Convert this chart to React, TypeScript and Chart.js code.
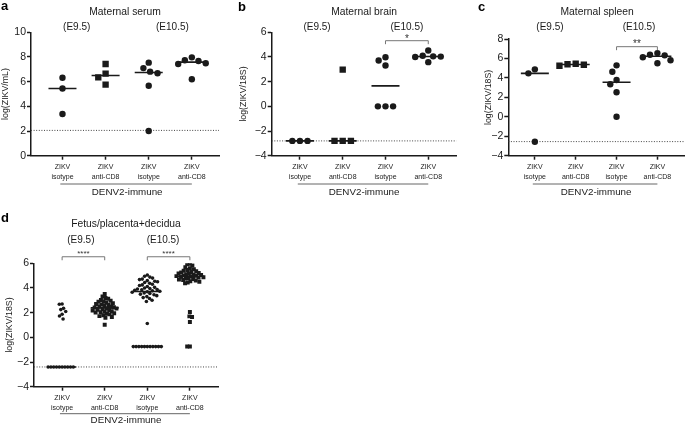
import React, { useEffect, useRef } from 'react';
import { Chart, registerables } from 'chart.js';

Chart.register(...registerables);

const FONT = "'Liberation Sans', Arial, Helvetica, sans-serif";
const INK = '#1a1a1a';

// ---------- shared labels ----------
const categoryLabels = [['ZIKV', 'isotype'], ['ZIKV', 'anti-CD8'], ['ZIKV', 'isotype'], ['ZIKV', 'anti-CD8']];
const stageLabels = ['(E9.5)', '(E10.5)'];
const cohortLabel = 'DENV2-immune';

// ---------- panel a: maternal serum, log(ZIKV/mL) ----------
const serumE95Isotype = [6.32, 5.45, 3.38];
const serumE95AntiCD8 = [7.43, 6.65, 6.35, 5.76];
const serumE105Isotype = [7.54, 7.1, 6.81, 6.68, 5.67, 2.0];
const serumE105AntiCD8 = [7.97, 7.73, 7.67, 7.49, 7.43, 6.19];
const serumLimit = 2.05;

// ---------- panel b: maternal brain, log(ZIKV/18S) ----------
const brainE95Isotype = [-2.8, -2.8, -2.8];
const brainE95AntiCD8 = [2.97, -2.8, -2.8, -2.8];
const brainE105Isotype = [3.98, 3.71, 3.31, 0, 0, 0];
const brainE105AntiCD8 = [4.52, 4.1, 4.05, 4.03, 4.0, 3.58];
const brainLimit = -2.8;

// ---------- panel c: maternal spleen, log(ZIKV/18S) ----------
const spleenE95Isotype = [4.88, 4.47, -2.56];
const spleenE95AntiCD8 = [5.45, 5.4, 5.35, 5.25];
const spleenE105Isotype = [5.29, 4.64, 3.78, 3.34, 2.52, 0.01];
const spleenE105AntiCD8 = [6.55, 6.38, 6.32, 6.12, 5.82, 5.5];
const spleenLimit = -2.55;

// ---------- panel d: fetus/placenta+decidua, log(ZIKV/18S) ----------
const fetusE95Isotype = [
  2.7, 2.68, 2.35, 2.25, 2.1, 1.87, 1.73, 1.49,
  -2.4, -2.4, -2.4, -2.4, -2.4, -2.4, -2.4, -2.4, -2.4, -2.4,
];
const fetusE95AntiCD8 = [
  3.52, 3.31, 3.18, 3.12, 3.02, 2.97, 2.91, 2.88, 2.8, 2.77, 2.71, 2.66, 2.62, 2.55, 2.52, 2.48, 2.44, 2.41,
  2.36, 2.33, 2.3, 2.24, 2.21, 2.17, 2.12, 2.09, 2.04, 2.01, 1.96, 1.9, 1.86, 1.79, 1.72, 1.65, 1.58, 1.02,
];
const fetusE105Isotype = [
  5.05, 4.95, 4.88, 4.8, 4.72, 4.68, 4.6, 4.55, 4.5, 4.45, 4.38, 4.3, 4.25, 4.2, 4.12, 4.05, 4.0, 3.96, 3.92,
  3.88, 3.85, 3.82, 3.78, 3.74, 3.7, 3.66, 3.6, 3.55, 3.5, 3.45, 3.38, 3.3, 3.22, 3.15, 3.0, 2.9, 1.12,
  -0.75, -0.75, -0.75, -0.75, -0.75, -0.75, -0.75, -0.75, -0.75, -0.75, -0.75,
];
const fetusE105AntiCD8 = [
  5.96, 5.94, 5.82, 5.68, 5.6, 5.52, 5.45, 5.4, 5.35, 5.3, 5.26, 5.22, 5.18, 5.15, 5.12, 5.08, 5.05, 5.02,
  4.99, 4.96, 4.93, 4.9, 4.87, 4.84, 4.8, 4.76, 4.72, 4.68, 4.64, 4.6, 4.55, 4.5, 4.45, 4.38,
  2.05, 1.7, 1.65, 1.25, -0.75, -0.75,
];
const fetusLimit = -2.4;

type Shape = 'circle' | 'rect';
interface Sig { from: number; to: number; level: number; text: string }
interface Gap { gx: number; gy: number }
interface PanelSpec {
  letter: string;
  title: string;
  yTitle: string;
  groups: number[][];
  shapes: Shape[];
  limit: number;
  yMin: number;
  yMax: number;
  yStep: number;
  sig: Sig[];
  box: { L: number; T: number; R: number; B: number; yw: number; xMin: number; xMax: number };
  text: {
    titleY: number; stageY: number; stageX: number[]; letterX: number; letterY: number;
    starFont: number; starGap: number; cohortLineDy: number; cohortTextDy: number;
  };
  marks: { circleR: number; rectR: number; gapCircle: Gap; gapRect: Gap; medianHalf: number };
}

const bigMarks = {
  circleR: 3.2, rectR: 4.5,
  gapCircle: { gx: 7.6, gy: 7.6 }, gapRect: { gx: 8.2, gy: 8.2 },
  medianHalf: 14,
};

const panels: PanelSpec[] = [
  {
    letter: 'a', title: 'Maternal serum', yTitle: 'log(ZIKV/mL)',
    groups: [serumE95Isotype, serumE95AntiCD8, serumE105Isotype, serumE105AntiCD8],
    shapes: ['circle', 'rect', 'circle', 'circle'], limit: serumLimit,
    yMin: 0, yMax: 10, yStep: 2, sig: [],
    box: { L: 31, T: 32.3, R: 219, B: 155.7, yw: 30.3, xMin: 0.27, xMax: 4.63 },
    text: { titleY: 12.5, stageY: 27, stageX: [1.33, 3.55], letterX: 1, letterY: 10, starFont: 10, starGap: 4.7, cohortLineDy: 28.3, cohortTextDy: 36.5 },
    marks: bigMarks,
  },
  {
    letter: 'b', title: 'Maternal brain', yTitle: 'log(ZIKV/18S)',
    groups: [brainE95Isotype, brainE95AntiCD8, brainE105Isotype, brainE105AntiCD8],
    shapes: ['circle', 'rect', 'circle', 'circle'], limit: brainLimit,
    yMin: -4, yMax: 6, yStep: 2, sig: [{ from: 3, to: 4, level: 5.32, text: '*' }],
    box: { L: 271.7, T: 32.3, R: 456.5, B: 155.7, yw: 33.7, xMin: 0.34, xMax: 4.66 },
    text: { titleY: 12.5, stageY: 27, stageX: [1.4, 3.5], letterX: 238, letterY: 10.5, starFont: 10, starGap: 4.7, cohortLineDy: 28.3, cohortTextDy: 36.5 },
    marks: bigMarks,
  },
  {
    letter: 'c', title: 'Maternal spleen', yTitle: 'log(ZIKV/18S)',
    groups: [spleenE95Isotype, spleenE95AntiCD8, spleenE105Isotype, spleenE105AntiCD8],
    shapes: ['circle', 'rect', 'circle', 'circle'], limit: spleenLimit,
    yMin: -4, yMax: 8, yStep: 2, sig: [{ from: 3, to: 4, level: 7.21, text: '**' }],
    box: { L: 508.3, T: 39, R: 686, B: 155.7, yw: 25.1, xMin: 0.35, xMax: 4.7 },
    text: { titleY: 12.5, stageY: 27, stageX: [1.37, 3.55], letterX: 478, letterY: 10.5, starFont: 10, starGap: 5, cohortLineDy: 28.3, cohortTextDy: 36.5 },
    marks: bigMarks,
  },
  {
    letter: 'd', title: 'Fetus/placenta+decidua', yTitle: 'log(ZIKV/18S)',
    groups: [fetusE95Isotype, fetusE95AntiCD8, fetusE105Isotype, fetusE105AntiCD8],
    shapes: ['circle', 'rect', 'circle', 'rect'], limit: fetusLimit,
    yMin: -4, yMax: 6, yStep: 2,
    sig: [{ from: 1, to: 2, level: 6.53, text: '****' }, { from: 3, to: 4, level: 6.53, text: '****' }],
    box: { L: 34, T: 263.3, R: 218, B: 386.7, yw: 29.8, xMin: 0.34, xMax: 4.66 },
    text: { titleY: 224, stageY: 240, stageX: [1.44, 3.37], letterX: 1, letterY: 222, starFont: 8, starGap: 5, cohortLineDy: 27, cohortTextDy: 33.8 },
    marks: {
      circleR: 1.8, rectR: 2.8,
      gapCircle: { gx: 2.8, gy: 5 }, gapRect: { gx: 2.7, gy: 4.4 },
      medianHalf: 14,
    },
  },
];

function median(vals: number[]): number {
  const s = [...vals].sort((a, b) => a - b);
  const n = s.length;
  return n % 2 ? s[(n - 1) / 2] : (s[n / 2 - 1] + s[n / 2]) / 2;
}

// Beeswarm: horizontal pixel offsets so that markers (elliptical footprint gx x gy) do not collide
function swarm(values: number[], yPx: number, gap: Gap): number[] {
  const order = values.map((_, i) => i).sort((a, b) => values[b] - values[a]);
  const placed: { x: number; y: number }[] = [];
  const out = new Array(values.length).fill(0);
  for (const i of order) {
    const y = values[i] * yPx;
    const forbidden: [number, number][] = [];
    for (const p of placed) {
      const dy = Math.abs(p.y - y);
      if (dy < gap.gy) {
        const dx = gap.gx * Math.sqrt(1 - (dy / gap.gy) ** 2);
        forbidden.push([p.x - dx, p.x + dx]);
      }
    }
    const cands = [0];
    forbidden.forEach(([a, b]) => cands.push(a, b));
    cands.sort((a, b) => Math.abs(a) - Math.abs(b) || a - b);
    let x = 0;
    for (const c of cands) {
      if (forbidden.every(([a, b]) => c <= a + 1e-6 || c >= b - 1e-6)) { x = c; break; }
    }
    placed.push({ x, y });
    out[i] = x;
  }
  return out;
}

function makeAnnotations(p: PanelSpec) {
  return {
    id: 'annotations-' + p.letter,
    afterDraw(chart: any) {
      const { ctx, chartArea: ca } = chart;
      const xs = chart.scales.x;
      const ys = chart.scales.y;
      ctx.save();
      ctx.fillStyle = INK;
      ctx.textAlign = 'center';
      ctx.textBaseline = 'middle';
      ctx.font = `10.3px ${FONT}`;
      ctx.fillText(p.title, (ca.left + ca.right) / 2, p.text.titleY);
      ctx.font = `10px ${FONT}`;
      stageLabels.forEach((s, i) => ctx.fillText(s, xs.getPixelForValue(p.text.stageX[i]), p.text.stageY));

      // cohort line + label
      ctx.strokeStyle = '#666';
      ctx.lineWidth = 1;
      const ly = ca.bottom + p.text.cohortLineDy;
      ctx.beginPath();
      ctx.moveTo(xs.getPixelForValue(0.95), ly);
      ctx.lineTo(xs.getPixelForValue(4.0), ly);
      ctx.stroke();
      ctx.fillStyle = INK;
      ctx.font = `9.8px ${FONT}`;
      ctx.fillText(cohortLabel, xs.getPixelForValue(2.5), ca.bottom + p.text.cohortTextDy);

      // significance brackets
      for (const s of p.sig) {
        const x1 = xs.getPixelForValue(s.from);
        const x2 = xs.getPixelForValue(s.to);
        const y = ys.getPixelForValue(s.level);
        ctx.strokeStyle = '#777';
        ctx.lineWidth = 1;
        ctx.beginPath();
        ctx.moveTo(x1, y + 3.5);
        ctx.lineTo(x1, y);
        ctx.lineTo(x2, y);
        ctx.lineTo(x2, y + 3.5);
        ctx.stroke();
        ctx.fillStyle = '#333';
        ctx.font = `${p.text.starFont}px ${FONT}`;
        ctx.textBaseline = 'alphabetic';
        ctx.fillText(s.text, (x1 + x2) / 2, y - p.text.starGap + 0.57 * p.text.starFont);
        ctx.textBaseline = 'middle';
      }

      // panel letter
      ctx.fillStyle = '#000';
      ctx.font = `bold 13px ${FONT}`;
      ctx.textAlign = 'left';
      ctx.textBaseline = 'alphabetic';
      ctx.fillText(p.letter, p.text.letterX, p.text.letterY);
      ctx.restore();
    },
  };
}

function buildChart(canvas: HTMLCanvasElement, p: PanelSpec) {
  const W = canvas.width;
  const H = canvas.height;
  const XH = 30;
  const { L, T, R, B, yw, xMin, xMax } = p.box;
  const xPx = (R - L) / (xMax - xMin);
  const yPx = (B - T) / (p.yMax - p.yMin);
  const datasets: any[] = [];

  p.groups.forEach((vals, g) => {
    const shape = p.shapes[g];
    const offs = swarm(vals, yPx, shape === 'rect' ? p.marks.gapRect : p.marks.gapCircle);
    datasets.push({
      data: vals.map((v, k) => ({ x: g + 1 + offs[k] / xPx, y: v })),
      pointStyle: shape,
      pointRadius: shape === 'rect' ? p.marks.rectR : p.marks.circleR,
      pointBackgroundColor: INK,
      pointBorderColor: INK,
      pointBorderWidth: 0,
      showLine: false,
      order: 0,
    });
  });

  p.groups.forEach((vals, g) => {
    const m = median(vals);
    const hw = p.marks.medianHalf / xPx;
    datasets.push({
      data: [{ x: g + 1 - hw, y: m }, { x: g + 1 + hw, y: m }],
      showLine: true,
      borderColor: INK,
      borderWidth: 1.6,
      pointRadius: 0,
      order: 1,
    });
  });

  datasets.push({
    data: [{ x: xMin, y: p.limit }, { x: xMax, y: p.limit }],
    showLine: true,
    borderColor: '#444',
    borderWidth: 1,
    borderDash: [1, 1.6],
    pointRadius: 0,
    order: 2,
  });

  return new Chart(canvas, {
    type: 'scatter',
    data: { datasets },
    options: {
      responsive: false,
      animation: false,
      events: [],
      layout: { padding: { left: L - yw, top: T, right: W - R, bottom: H - B - XH } },
      plugins: { legend: { display: false }, tooltip: { enabled: false } },
      scales: {
        x: {
          type: 'linear',
          min: xMin,
          max: xMax,
          afterBuildTicks: (axis: any) => { axis.ticks = [1, 2, 3, 4].map((v) => ({ value: v })); },
          afterFit: (axis: any) => { axis.height = XH; },
          ticks: {
            callback: (v: any) => categoryLabels[Math.round(v) - 1],
            font: { family: FONT, size: 7, lineHeight: 1.43 },
            color: INK,
            padding: 2,
            maxRotation: 0,
            autoSkip: false,
          },
          grid: { drawOnChartArea: false, tickLength: 4, tickColor: INK, tickWidth: 1.5 },
          border: { color: INK, width: 1.5 },
        },
        y: {
          type: 'linear',
          min: p.yMin,
          max: p.yMax,
          afterFit: (axis: any) => { axis.width = yw; },
          ticks: {
            stepSize: p.yStep,
            callback: (v: any) => String(v).replace('-', '\u2212'),
            font: { family: FONT, size: 10.5 },
            color: INK,
            padding: 1,
          },
          title: { display: true, text: p.yTitle, font: { family: FONT, size: 8.8 }, color: INK, padding: 0 },
          grid: { drawOnChartArea: false, tickLength: 4, tickColor: INK, tickWidth: 1.5 },
          border: { color: INK, width: 1.5 },
        },
      },
    } as any,
    plugins: [makeAnnotations(p)],
  });
}

function PanelChart({ spec }: { spec: PanelSpec }) {
  const ref = useRef<HTMLCanvasElement>(null);
  useEffect(() => {
    const chart = buildChart(ref.current as HTMLCanvasElement, spec);
    return () => chart.destroy();
  }, [spec]);
  return <canvas ref={ref} width={700} height={425} style={{ position: 'absolute', left: 0, top: 0 }} />;
}

export default function App() {
  return (
    <div style={{ position: 'fixed', left: 0, top: 0, width: 685, height: 425, overflow: 'hidden', background: '#fff' }}>
      {panels.map((p) => (
        <PanelChart key={p.letter} spec={p} />
      ))}
    </div>
  );
}
